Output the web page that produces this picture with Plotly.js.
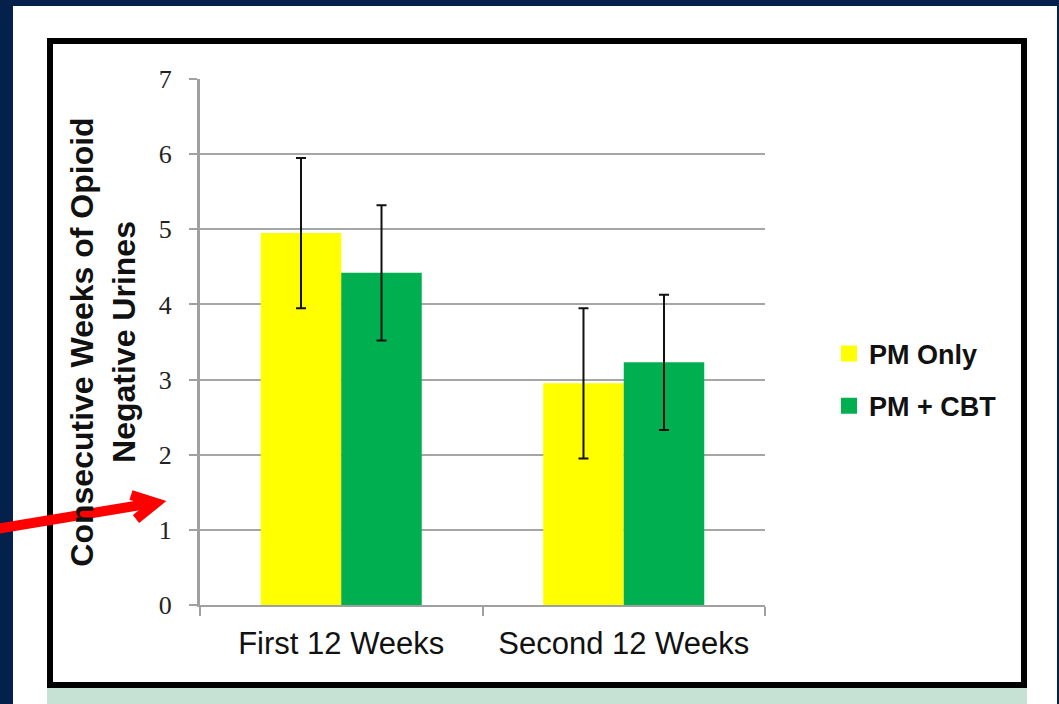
<!DOCTYPE html>
<html>
<head>
<meta charset="utf-8">
<script src="https://cdn.plot.ly/plotly-3.0.1.min.js"></script>
<style>
  html, body { margin: 0; padding: 0; background: #05204a; overflow: hidden; }
  #chart { width: 1059px; height: 704px; }
</style>
</head>
<body>
<div id="chart"></div>
<script>
// ---- data ----
var categories = ["First 12 Weeks", "Second 12 Weeks"];
var seriesNames = ["PM Only", "PM + CBT"];
var pmOnly = [4.95, 2.95];
var pmOnlyErr = [1.0, 1.0];
var pmCbt = [4.42, 3.23];
var pmCbtErr = [0.9, 0.9];
var yTicks = [0, 1, 2, 3, 4, 5, 6, 7];
var yTitle = "Consecutive Weeks of Opioid<br>Negative Urines";

// ---- layout geometry (pixels) ----
var W = 1059, H = 704;
var ml = 200, mr = W - 765, mt = 79, mb = H - 605;
var pw = W - ml - mr, ph = H - mt - mb;
function px(x) { return (x - ml) / pw; }
function py(y) { return (H - mb - y) / ph; }
function pt(x, y) { return px(x) + "," + py(y); }

var colors = ["#ffff00", "#00b050"];

var traces = [
  {
    type: "bar", name: seriesNames[0], x: categories, y: pmOnly,
    marker: { color: colors[0] }, showlegend: false,
    error_y: { type: "data", array: pmOnlyErr, visible: true, color: "#111", thickness: 2, width: 5 }
  },
  {
    type: "bar", name: seriesNames[1], x: categories, y: pmCbt,
    marker: { color: colors[1] }, showlegend: false,
    error_y: { type: "data", array: pmCbtErr, visible: true, color: "#111", thickness: 2, width: 5 }
  },
  {
    type: "scatter", mode: "markers", name: seriesNames[0], x: [null], y: [null],
    marker: { color: colors[0], symbol: "square", size: 18 }, legendgroup: "a", hoverinfo: "skip"
  },
  {
    type: "scatter", mode: "markers", name: seriesNames[1], x: [null], y: [null],
    marker: { color: colors[1], symbol: "square", size: 18 }, legendgroup: "b", hoverinfo: "skip"
  }
];

var layout = {
  width: W, height: H,
  margin: { l: ml, r: mr, t: mt, b: mb, pad: 0 },
  paper_bgcolor: "#05204a",
  plot_bgcolor: "rgba(0,0,0,0)",
  barmode: "group",
  bargap: 0.43,
  bargroupgap: 0,
  showlegend: true,
  legend: {
    x: px(829), y: py(380), xanchor: "left", yanchor: "middle",
    bgcolor: "rgba(0,0,0,0)", borderwidth: 0,
    traceorder: "grouped", tracegroupgap: 14,
    font: { family: "Liberation Sans, Arial, sans-serif", size: 27, color: "#111", weight: 700 }
  },
  xaxis: {
    type: "category",
    range: [-0.5, 1.5],
    showgrid: false,
    showline: true, linecolor: "#a0a0a0", linewidth: 2,
    ticks: "outside", tickson: "boundaries", ticklen: 9, tickwidth: 2, tickcolor: "#a0a0a0",
    ticklabelstandoff: 10,
    tickfont: { family: "Liberation Sans, Arial, sans-serif", size: 31, color: "#111" },
    fixedrange: true
  },
  yaxis: {
    range: [0, 7],
    tickvals: yTicks,
    ticktext: yTicks.map(String),
    showgrid: true, gridcolor: "#a6a6a6", gridwidth: 2,
    zeroline: false,
    showline: true, linecolor: "#a0a0a0", linewidth: 3,
    ticks: "outside", ticklen: 8, tickwidth: 2, tickcolor: "#a0a0a0",
    ticklabelstandoff: 12,
    tickfont: { family: "Liberation Serif, Times New Roman, serif", size: 26, color: "#222" },
    title: {
      text: yTitle,
      standoff: 14,
      font: { family: "Liberation Sans, Arial, sans-serif", size: 32, color: "#111", weight: 700 }
    },
    fixedrange: true
  },
  shapes: [
    { type: "rect", xref: "paper", yref: "paper", layer: "below",
      x0: px(13), x1: px(1057), y0: py(712), y1: py(6),
      fillcolor: "#ffffff", line: { width: 0 } },
    { type: "rect", xref: "paper", yref: "paper", layer: "below",
      x0: px(47), x1: px(1027), y0: py(712), y1: py(688),
      fillcolor: "#c5e2d4", line: { width: 0 } },
    { type: "rect", xref: "paper", yref: "paper", layer: "below",
      x0: px(50), x1: px(1024), y0: py(685), y1: py(41),
      fillcolor: "rgba(0,0,0,0)", line: { color: "#000", width: 6 } },
    // red pointer arrow
    { type: "path", xref: "paper", yref: "paper", layer: "above",
      path: "M" + pt(-10, 530) + "L" + pt(153, 503),
      line: { color: "#ff0000", width: 10 } },
    { type: "path", xref: "paper", yref: "paper", layer: "above",
      path: "M" + pt(131, 495) + "L" + pt(156, 503) + "L" + pt(136, 519),
      line: { color: "#ff0000", width: 10 } }
  ]
};

Plotly.newPlot("chart", traces, layout, { displayModeBar: false, staticPlot: true });
</script>
</body>
</html>
